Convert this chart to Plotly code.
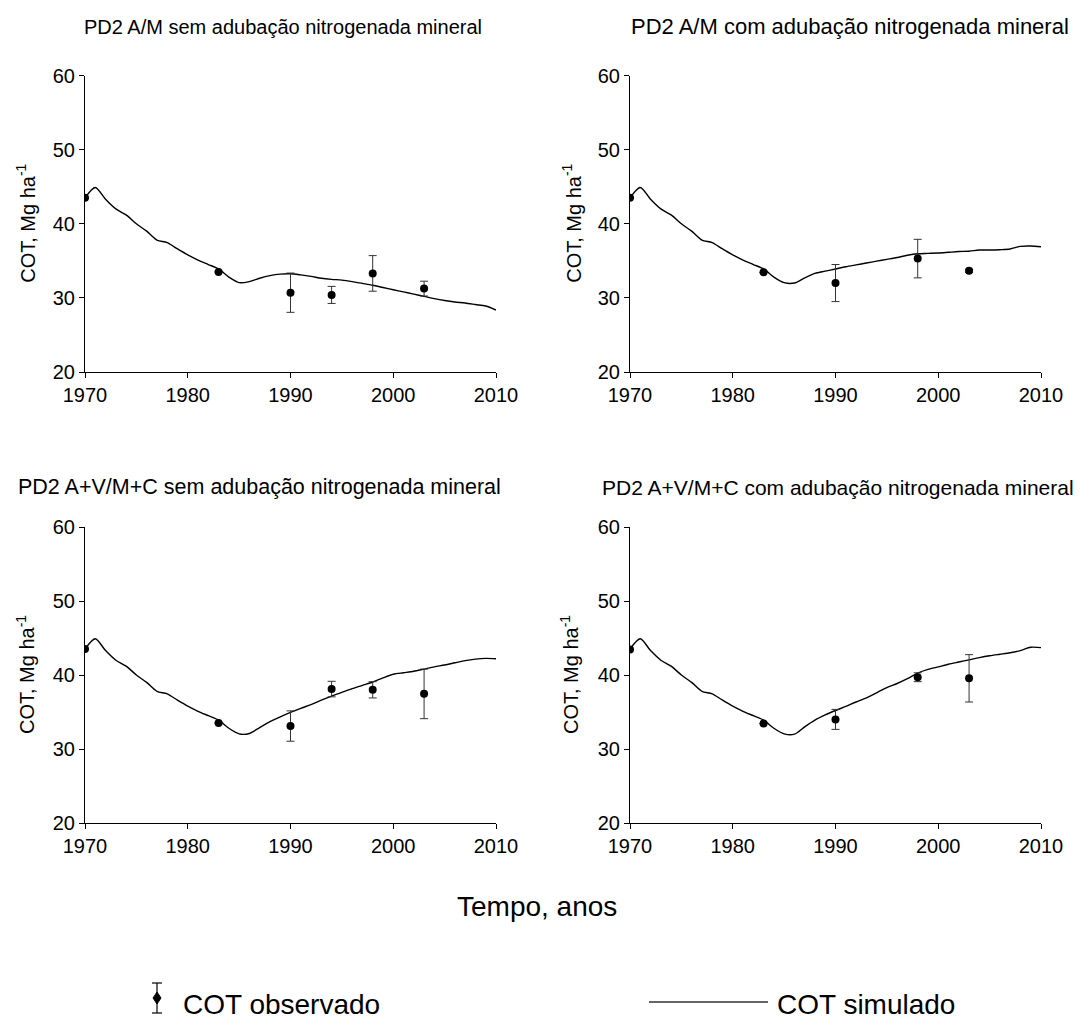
import plotly.graph_objects as go

# ---------------- data ----------------
years_sim = list(range(1970, 2011))

sim_am_sem = [43.5, 44.9, 43.3, 42.0, 41.2, 40.0, 39.0, 37.8, 37.45, 36.6,
              35.8, 35.1, 34.5, 33.9, 32.8, 32.05, 32.2, 32.65, 33.0, 33.2,
              33.25, 33.1, 32.9, 32.65, 32.5, 32.4, 32.2, 31.95, 31.7, 31.4,
              31.1, 30.8, 30.5, 30.2, 29.9, 29.65, 29.45, 29.3, 29.1, 28.9, 28.35]
sim_am_com = [43.5, 44.9, 43.3, 42.0, 41.2, 40.0, 39.0, 37.8, 37.45, 36.6,
              35.8, 35.1, 34.5, 33.9, 32.8, 32.05, 32.0, 32.7, 33.3, 33.6,
              33.9, 34.2, 34.45, 34.7, 34.95, 35.2, 35.45, 35.75, 35.95, 36.0,
              36.05, 36.15, 36.25, 36.3, 36.45, 36.45, 36.5, 36.6, 36.95, 37.0, 36.9]
sim_avmc_sem = [43.5, 44.9, 43.3, 42.0, 41.2, 40.0, 39.0, 37.8, 37.45, 36.6,
                35.8, 35.1, 34.5, 33.9, 32.8, 32.05, 32.1, 32.9, 33.7, 34.35,
                34.95, 35.5, 36.0, 36.6, 37.15, 37.65, 38.15, 38.6, 39.05, 39.6,
                40.1, 40.3, 40.5, 40.8, 41.1, 41.35, 41.65, 41.95, 42.15, 42.25, 42.2]
sim_avmc_com = [43.5, 44.9, 43.3, 42.0, 41.2, 40.0, 39.0, 37.8, 37.45, 36.6,
                35.8, 35.1, 34.5, 33.9, 32.8, 32.05, 32.0, 33.0, 33.9, 34.6,
                35.2, 35.75, 36.35, 36.9, 37.6, 38.3, 38.85, 39.5, 40.25, 40.75,
                41.1, 41.45, 41.75, 42.05, 42.35, 42.6, 42.8, 43.0, 43.3, 43.75, 43.7]

obs_years_am_sem = [1970, 1983, 1990, 1994, 1998, 2003]
obs_am_sem = [43.5, 33.5, 30.7, 30.4, 33.3, 31.25]
err_am_sem = [0, 0, 2.65, 1.15, 2.4, 1.0]

obs_years_am_com = [1970, 1983, 1990, 1998, 2003]
obs_am_com = [43.5, 33.45, 32.0, 35.3, 33.65]
err_am_com = [0, 0, 2.5, 2.6, 0.2]

obs_years_avmc_sem = [1970, 1983, 1990, 1994, 1998, 2003]
obs_avmc_sem = [43.5, 33.5, 33.1, 38.1, 38.0, 37.45]
err_avmc_sem = [0, 0, 2.05, 1.05, 1.1, 3.35]

obs_years_avmc_com = [1970, 1983, 1990, 1998, 2003]
obs_avmc_com = [43.45, 33.45, 34.0, 39.7, 39.55]
err_avmc_com = [0, 0, 1.35, 0.6, 3.2]

titles = ["PD2 A/M sem adubação nitrogenada mineral",
          "PD2 A/M com adubação nitrogenada mineral",
          "PD2 A+V/M+C sem adubação nitrogenada mineral",
          "PD2 A+V/M+C com adubação nitrogenada mineral"]
y_title = "COT, Mg ha<sup>-1</sup>"
x_title = "Tempo, anos"
legend_obs = "COT observado"
legend_sim = "COT simulado"

# ---------------- figure ----------------
W, H = 1082, 1021
FONT = "Liberation Sans, Arial, sans-serif"

def px(x):
    return x / W

def py(y):
    return 1 - y / H

xdoms = [[px(85), px(496)], [px(630), px(1041)]]
ydoms = [[py(372), py(75.5)], [py(823), py(527)]]

panels = [
    (sim_am_sem, obs_years_am_sem, obs_am_sem, err_am_sem),
    (sim_am_com, obs_years_am_com, obs_am_com, err_am_com),
    (sim_avmc_sem, obs_years_avmc_sem, obs_avmc_sem, err_avmc_sem),
    (sim_avmc_com, obs_years_avmc_com, obs_avmc_com, err_avmc_com),
]

fig = go.Figure()
annotations = []
for i, (sim, oy, ov, oe) in enumerate(panels):
    n = i + 1
    xa = "x" if n == 1 else f"x{n}"
    ya = "y" if n == 1 else f"y{n}"
    col, row = i % 2, i // 2
    fig.add_trace(go.Scatter(
        x=years_sim, y=sim, mode="lines", xaxis=xa, yaxis=ya,
        line=dict(color="black", width=1.4, shape="spline", smoothing=0.8),
        showlegend=False, hoverinfo="skip"))
    fig.add_trace(go.Scatter(
        x=oy, y=ov, mode="markers", xaxis=xa, yaxis=ya,
        marker=dict(color="black", size=8),
        error_y=dict(type="data", array=oe, visible=True, color="#333333",
                     thickness=1, width=4),
        showlegend=False))
    axcommon = dict(showline=True, linecolor="black", linewidth=1, ticks="outside",
                    ticklen=5, tickwidth=1, tickcolor="black", showgrid=False,
                    zeroline=False, automargin=False,
                    tickfont=dict(family=FONT, size=20, color="black"))
    fig.layout[("xaxis" if n == 1 else f"xaxis{n}")] = dict(
        domain=xdoms[col], range=[1970, 2010], dtick=10, tick0=1970,
        anchor=ya, **axcommon)
    fig.layout[("yaxis" if n == 1 else f"yaxis{n}")] = dict(
        domain=ydoms[row], range=[20, 60], dtick=10, tick0=20,
        anchor=xa, **axcommon)
    # panel title
    tx = [283, 850, 259, 838][i]
    ty = [27, 27, 487, 487][i]
    tsize = [20, 22, 21.5, 21][i]
    annotations.append(dict(text=titles[i], x=px(tx), y=py(ty), xref="paper", yref="paper",
                            showarrow=False, xanchor="center", yanchor="middle",
                            font=dict(family=FONT, size=tsize, color="black")))
    # y title
    yx = [26, 572, 25, 569][i]
    annotations.append(dict(text=y_title, x=px(yx), y=sum(ydoms[row]) / 2,
                            xref="paper", yref="paper", textangle=-90,
                            showarrow=False, xanchor="center", yanchor="middle",
                            font=dict(family=FONT, size=20, color="black")))

annotations.append(dict(text=x_title, x=px(537), y=py(906), xref="paper", yref="paper",
                        showarrow=False, xanchor="center", yanchor="middle",
                        font=dict(family=FONT, size=28, color="black")))
annotations.append(dict(text=legend_obs, x=px(181), y=py(1004), xref="paper", yref="paper",
                        showarrow=False, xanchor="left", yanchor="middle",
                        font=dict(family=FONT, size=28, color="black")))
annotations.append(dict(text=legend_sim, x=px(775), y=py(1004), xref="paper", yref="paper",
                        showarrow=False, xanchor="left", yanchor="middle",
                        font=dict(family=FONT, size=28, color="black")))

# legend glyphs
shapes = []
ex = px(157)
shapes.append(dict(type="line", xref="paper", yref="paper", x0=ex, x1=ex,
                   y0=py(983), y1=py(1013), line=dict(color="black", width=1.2)))
for yy in (983, 1013):
    shapes.append(dict(type="line", xref="paper", yref="paper", x0=px(152), x1=px(162),
                       y0=py(yy), y1=py(yy), line=dict(color="black", width=1.2)))
shapes.append(dict(type="path", xref="paper", yref="paper",
                   path=f"M {px(157)} {py(992)} L {px(161)} {py(998)} L {px(157)} {py(1004)} L {px(153)} {py(998)} Z",
                   fillcolor="black", line=dict(color="black", width=1)))
shapes.append(dict(type="line", xref="paper", yref="paper", x0=px(649), x1=px(768),
                   y0=py(1002), y1=py(1002), line=dict(color="#333333", width=1.5)))

fig.update_layout(width=W, height=H, margin=dict(l=0, r=0, t=0, b=0),
                  paper_bgcolor="white", plot_bgcolor="white",
                  annotations=annotations, shapes=shapes,
                  font=dict(family=FONT, color="black"))

fig.write_html("out.html", config={"displayModeBar": False},
               post_script="document.body.style.margin='0px';")
